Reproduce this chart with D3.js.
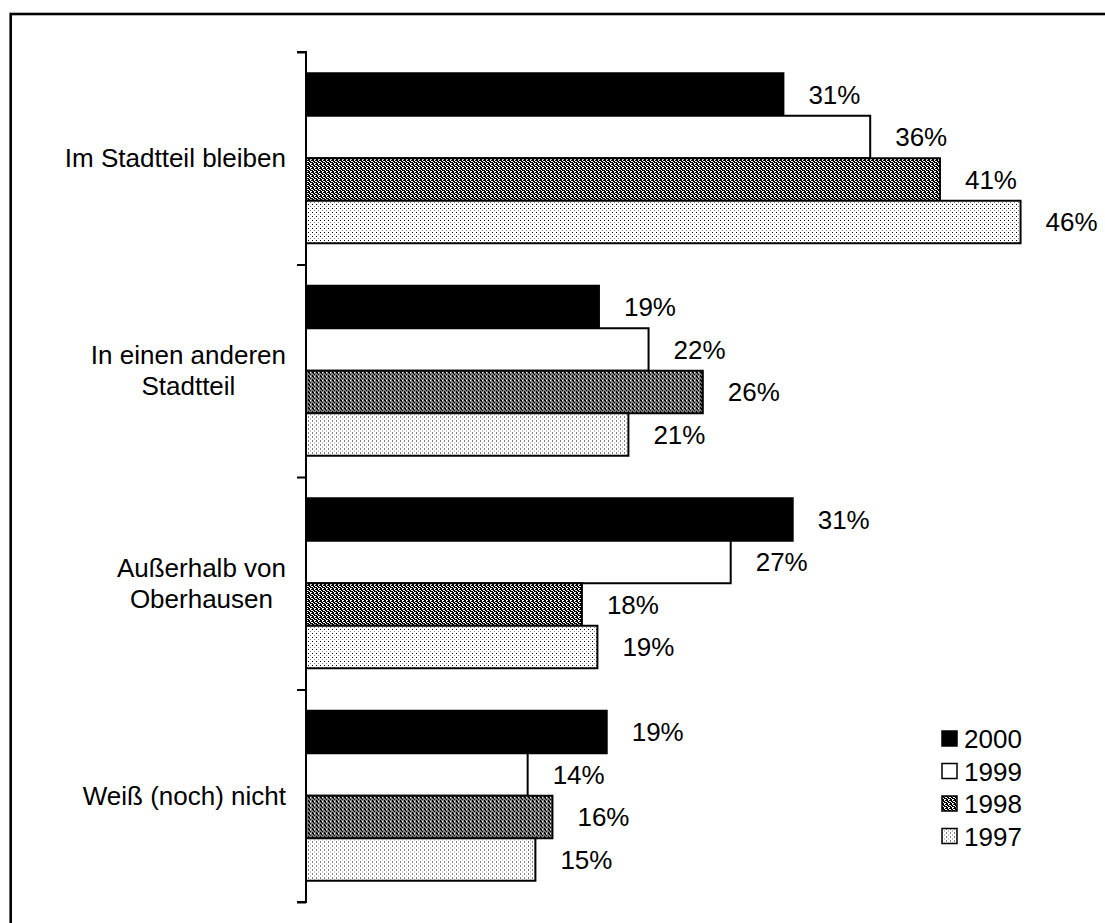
<!DOCTYPE html>
<html>
<head>
<meta charset="utf-8">
<script src="https://cdn.jsdelivr.net/npm/d3@7"></script>
<style>
  body { margin: 0; background: #fff; }
  text { font-family: "Liberation Sans", Arial, sans-serif; fill: #000; }
</style>
</head>
<body>
<div id="vis"></div>
<script>
// categories (one label line per entry)
var categories = [
    ["Im Stadtteil bleiben"],
    ["In einen anderen", "Stadtteil"],
    ["Außerhalb von", "Oberhausen"],
    ["Weiß (noch) nicht"]
];
var years = ["2000", "1999", "1998", "1997"];

// shares in percent
var v2000 = [30.8, 18.9, 31.4, 19.4];
var v1999 = [36.4, 22.1, 27.4, 14.3];
var v1998 = [40.9, 25.6, 17.8, 15.9];
var v1997 = [46.1, 20.8, 18.8, 14.8];
var series = [v2000, v1999, v1998, v1997];

var width = 1105;
var height = 923;
var fontSize = 26;
var labelGap = 25;

var svgElement = d3.select('#vis').append('svg')
    .attr('width', width)
    .attr('height', height);

// fill patterns
var defs = svgElement.append('defs');

// 1998: dense woven texture
var weave = ["XX.X", ".XX.", "X.XX", "XX.."];
var hatch = defs.append('pattern')
    .attr('id', 'p1998')
    .attr('patternUnits', 'userSpaceOnUse')
    .attr('width', 4).attr('height', 4);
hatch.append('rect').attr('width', 4).attr('height', 4).attr('fill', '#fff');
weave.forEach(function (row, ry) {
    row.split('').forEach(function (c, rx) {
        if (c === 'X') {
            hatch.append('rect')
                .attr('x', rx).attr('y', ry)
                .attr('width', 1).attr('height', 1)
                .attr('fill', '#000')
                .attr('shape-rendering', 'crispEdges');
        }
    });
});

// 1997: sparse dots
var dots = defs.append('pattern')
    .attr('id', 'p1997')
    .attr('patternUnits', 'userSpaceOnUse')
    .attr('width', 4).attr('height', 4);
dots.append('rect').attr('width', 4).attr('height', 4).attr('fill', '#fff');
dots.append('rect').attr('x', 0).attr('y', 0).attr('width', 1).attr('height', 1)
    .attr('fill', '#000').attr('shape-rendering', 'crispEdges');
dots.append('rect').attr('x', 2).attr('y', 2).attr('width', 1).attr('height', 1)
    .attr('fill', '#888').attr('shape-rendering', 'crispEdges');

var fills = {
    "2000": "#000",
    "1999": "#fff",
    "1998": "url(#p1998)",
    "1997": "url(#p1997)"
};

// frame (runs off the right and bottom edges)
svgElement.append('rect')
    .attr('x', 10.7).attr('y', 14)
    .attr('width', 1200).attr('height', 1000)
    .attr('fill', 'none')
    .attr('stroke', '#000')
    .attr('stroke-width', 2.6);

// scales
var x = d3.scaleLinear().domain([0, 50]).range([306, 1081]);
var y = d3.scaleBand()
    .domain(d3.range(categories.length))
    .range([52, 902])
    .padding(0);
var yInner = d3.scaleBand()
    .domain(years)
    .range([0, y.bandwidth()])
    .paddingInner(0)
    .paddingOuter(0.5);

// bars
var groups = svgElement.selectAll('g.group')
    .data(categories)
    .enter().append('g')
    .attr('class', 'group')
    .attr('transform', function (d, i) { return 'translate(0,' + y(i) + ')'; });

groups.each(function (cat, ci) {
    var g = d3.select(this);
    years.forEach(function (yr, si) {
        var v = series[si][ci];
        g.append('rect')
            .attr('x', x(0))
            .attr('y', yInner(yr))
            .attr('width', x(v) - x(0))
            .attr('height', yInner.bandwidth())
            .attr('fill', fills[yr])
            .attr('stroke', '#000')
            .attr('stroke-width', 2);
        g.append('text')
            .attr('x', x(v) + labelGap)
            .attr('y', yInner(yr) + yInner.bandwidth() / 2 + fontSize * 0.36)
            .attr('font-size', fontSize)
            .text(Math.round(v) + '%');
    });
});

// axis with outside ticks at group boundaries
var axis = d3.axisLeft(d3.scaleLinear().domain([0, categories.length]).range([52, 902]))
    .ticks(categories.length)
    .tickSize(9)
    .tickFormat('');
var axisG = svgElement.append('g')
    .attr('transform', 'translate(' + x(0) + ',0)')
    .call(axis);
axisG.select('.domain').attr('d', 'M-9,52H0V902H-9').attr('stroke-width', 2);
axisG.selectAll('.tick line').attr('stroke-width', 2);

// category labels: block right-aligned, lines centered within it
var labelRight = 286;
categories.forEach(function (lines, ci) {
    var t = svgElement.append('text')
        .attr('font-size', fontSize)
        .attr('text-anchor', 'middle');
    var spans = lines.map(function (line) { return t.append('tspan').text(line); });
    var maxW = d3.max(spans, function (s) { return s.node().getComputedTextLength(); });
    var cx = labelRight - maxW / 2;
    var cy = y(ci) + y.bandwidth() / 2;
    spans.forEach(function (s, li) {
        s.attr('x', cx)
         .attr('y', cy + fontSize * 0.34 + (li - (lines.length - 1) / 2) * 31);
    });
});

// legend
var legend = svgElement.append('g').attr('transform', 'translate(942,731)');
years.forEach(function (yr, i) {
    var row = legend.append('g').attr('transform', 'translate(0,' + i * 32.5 + ')');
    row.append('rect')
        .attr('x', 0).attr('y', 0)
        .attr('width', 15).attr('height', 15)
        .attr('fill', fills[yr])
        .attr('stroke', '#000')
        .attr('stroke-width', 1.5);
    row.append('text')
        .attr('x', 22)
        .attr('y', 17)
        .attr('font-size', fontSize)
        .text(yr);
});
</script>
</body>
</html>
